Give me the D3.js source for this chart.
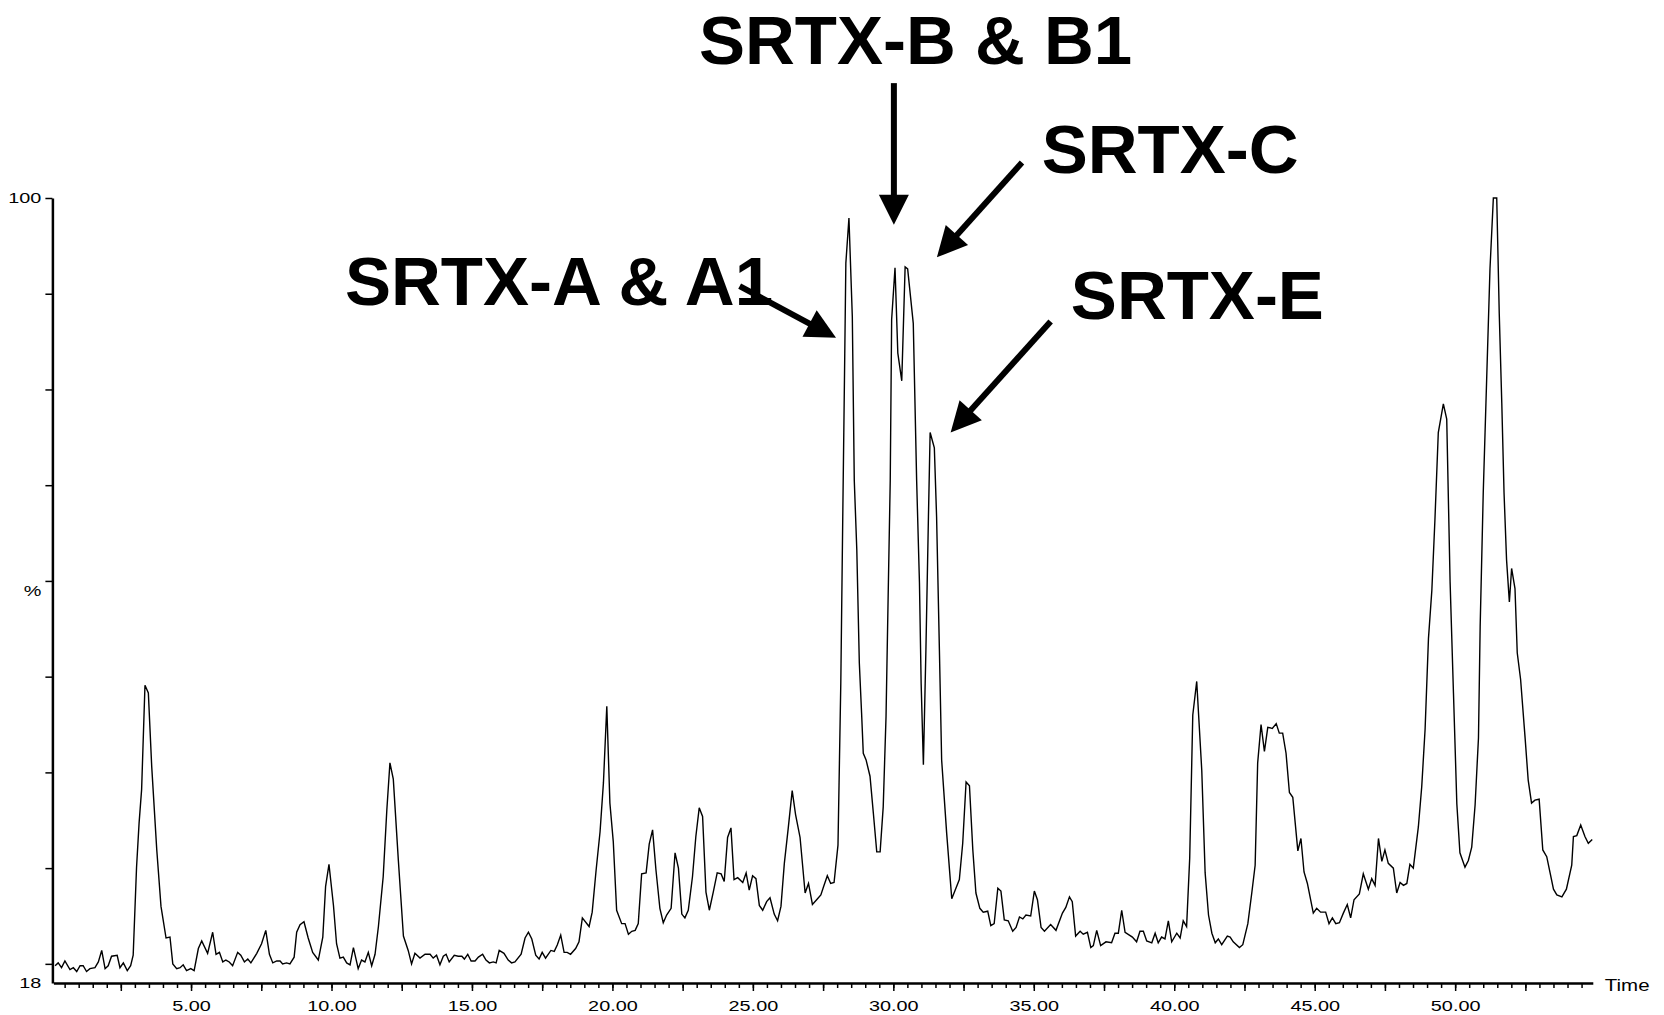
<!DOCTYPE html>
<html>
<head>
<meta charset="utf-8">
<script src="https://cdn.jsdelivr.net/npm/d3@7"></script>
<style>
  html, body { margin: 0; padding: 0; background: #fff; }
  svg { display: block; }
  text { font-family: "Liberation Sans", Arial, sans-serif; }
</style>
</head>
<body>
<svg id="chart" width="1664" height="1015"></svg>
<script>
// ---- data (retention time, relative intensity %) ----
const times = [
0.16,0.27,0.39,0.51,0.69,0.81,0.93,1.05,1.16,1.28,1.40,1.58,1.70,1.82,1.94,2.05,2.17,2.37,2.47,2.59,2.73,2.85,2.94,
3.06,3.15,3.24,3.36,3.48,3.60,3.78,3.93,4.11,4.25,4.35,4.49,4.61,4.72,4.84,4.99,5.11,5.26,5.38,5.59,5.77,5.89,
6.01,6.13,6.24,6.36,6.48,6.66,6.77,6.90,7.02,7.13,7.34,7.51,7.66,7.79,7.91,8.05,8.17,8.26,8.40,8.52,8.67,8.76,8.88,
9.02,9.17,9.33,9.53,9.69,9.79,9.91,10.07,10.18,10.30,10.42,10.54,10.66,10.78,10.95,11.07,11.19,11.31,11.43,11.55,
11.67,11.84,11.97,12.08,12.20,12.38,12.56,12.73,12.85,12.97,13.15,13.33,13.51,13.62,13.74,13.86,13.98,14.08,14.19,
14.37,14.51,14.64,14.73,14.85,14.97,15.11,15.23,15.38,15.50,15.62,15.76,15.86,15.97,16.14,16.29,16.41,16.53,16.75,
16.89,17.01,17.13,17.27,17.39,17.50,17.62,17.81,17.93,18.04,18.16,18.28,18.39,18.51,18.69,18.81,18.93,19.17,19.28,
19.42,19.56,19.68,19.80,19.91,20.03,20.15,20.33,20.45,20.57,20.69,20.81,20.92,21.04,21.20,21.31,21.43,21.55,21.69,
21.81,21.93,22.09,22.23,22.35,22.47,22.58,22.70,22.85,22.97,23.09,23.21,23.33,23.45,23.59,23.73,23.87,23.98,24.10,
24.22,24.33,24.46,24.64,24.76,24.87,24.99,25.11,25.23,25.35,25.49,25.61,25.76,25.88,26.00,26.12,26.26,26.40,26.52,
26.68,26.86,26.98,27.12,27.27,27.42,27.51,27.65,27.77,27.89,28.03,28.13,28.20,28.26,28.31,28.42,28.54,28.61,28.70,
28.79,28.87,28.93,29.03,29.17,29.29,29.41,29.53,29.64,29.74,29.82,29.89,29.94,30.06,30.16,30.30,30.42,30.51,30.71,
30.83,30.93,30.99,31.07,31.16,31.25,31.31,31.46,31.54,31.64,31.72,31.90,32.08,32.20,32.35,32.47,32.59,32.71,32.83,
32.94,33.08,33.20,33.36,33.47,33.59,33.72,33.83,33.95,34.09,34.25,34.37,34.49,34.61,34.72,34.89,35.02,35.13,35.26,
35.38,35.60,35.79,36.02,36.14,36.27,36.37,36.49,36.65,36.76,36.91,37.03,37.12,37.24,37.38,37.57,37.77,37.89,38.01,
38.13,38.25,38.51,38.66,38.78,38.90,39.02,39.20,39.32,39.43,39.55,39.67,39.79,39.91,40.09,40.21,40.32,40.44,40.55,
40.66,40.80,40.98,41.10,41.22,41.34,41.46,41.57,41.69,41.89,41.99,42.10,42.32,42.44,42.62,42.76,42.88,42.97,43.09,
43.21,43.33,43.49,43.63,43.74,43.86,43.98,44.10,44.22,44.40,44.51,44.62,44.74,44.95,45.07,45.21,45.39,45.51,45.63,
45.75,45.88,46.02,46.16,46.28,46.40,46.59,46.73,46.91,47.03,47.15,47.27,47.39,47.50,47.62,47.80,47.92,48.04,48.16,
48.28,48.39,48.51,48.69,48.81,48.93,49.05,49.17,49.28,49.40,49.58,49.70,49.82,49.94,50.06,50.17,50.35,50.47,50.59,
50.71,50.83,50.89,51.00,51.12,51.24,51.36,51.48,51.57,51.66,51.74,51.83,51.93,52.01,52.13,52.21,52.33,52.49,52.60,
52.72,52.84,52.99,53.12,53.26,53.38,53.50,53.62,53.80,53.96,54.15,54.21,54.33,54.47,54.62,54.74,54.88
];
const intensities = [
19.8,20.1,19.6,20.3,19.4,19.6,19.2,19.8,19.8,19.2,19.5,19.6,20.2,21.4,19.5,19.8,20.8,20.9,19.6,20.1,19.3,19.8,20.9,
30.1,34.7,38.2,49.1,48.3,40.6,31.9,26.0,22.7,22.8,20.0,19.5,19.6,19.9,19.3,19.5,19.3,21.6,22.4,21.1,23.3,21.0,
21.2,20.2,20.4,20.2,19.8,21.2,20.9,20.2,20.5,20.1,21.1,22.1,23.5,21.0,20.1,20.3,20.3,20.0,20.1,20.0,20.7,23.3,24.1,
24.4,22.7,21.2,20.4,22.8,28.1,30.4,26.1,22.1,20.6,20.7,20.1,19.9,21.7,19.5,20.4,20.2,21.2,19.8,21.0,
23.9,29.1,36.1,41.0,39.3,30.8,22.9,21.4,20.0,21.1,20.6,21.0,21.0,20.6,20.9,19.9,20.8,21.0,20.2,
20.9,20.8,20.8,20.5,21.0,20.3,20.3,20.7,21.0,20.4,20.1,20.2,20.1,21.4,21.1,20.4,20.1,20.2,21.0,
22.7,23.3,22.6,20.9,20.5,21.2,20.6,21.4,21.3,22.0,23.0,21.2,21.2,21.0,21.6,22.3,24.8,23.9,25.4,
29.8,33.8,38.9,46.9,36.8,32.8,25.6,24.2,24.2,23.1,23.4,23.5,24.2,29.4,29.5,32.5,34.0,29.8,25.8,
24.3,25.1,25.8,31.6,30.0,25.2,24.8,25.6,29.1,33.3,36.3,35.4,27.5,25.6,27.5,29.5,29.4,28.6,33.2,
34.2,28.8,29.0,28.5,29.5,27.7,29.2,28.9,26.1,25.6,26.5,26.9,25.2,24.5,26.0,30.5,34.2,38.1,35.6,
33.2,27.4,28.4,26.2,26.7,27.2,28.0,29.2,28.4,28.5,32.4,49.3,66.7,81.0,93.2,97.9,87.6,70.5,63.2,
51.4,46.2,42.0,41.3,39.6,35.7,31.7,31.7,36.4,45.8,59.1,70.5,87.3,92.7,83.8,80.9,92.8,92.6,86.9,
70.5,59.8,49.3,40.8,52.8,66.7,75.5,73.9,66.7,52.8,41.3,33.6,26.8,27.7,28.8,32.6,39.0,38.6,31.9,
27.4,25.8,25.4,25.5,24.0,24.2,27.9,27.6,24.6,24.5,23.4,23.8,24.9,24.7,25.1,25.0,27.6,26.7,23.8,
23.4,24.1,23.5,25.3,25.9,27.0,26.5,22.9,23.4,23.1,23.3,21.7,21.9,23.5,21.9,22.3,22.2,23.2,23.2,
25.6,23.3,22.8,22.3,23.4,23.4,22.4,22.2,23.2,22.2,22.8,22.6,24.5,22.3,23.2,22.7,24.5,23.9,31.0,
46.0,49.5,40.2,29.5,25.1,23.2,22.2,22.6,22.0,22.9,22.8,22.3,21.7,22.0,24.2,27.4,30.3,41.0,45.0,
42.2,44.7,44.6,45.1,44.1,44.1,42.0,37.9,37.4,31.8,33.1,29.6,28.4,25.3,25.8,25.4,25.4,24.2,24.8,
24.2,24.3,25.3,26.2,24.8,26.7,27.3,29.4,27.8,28.9,28.2,33.1,30.7,31.9,30.5,30.0,27.4,28.5,28.2,
28.4,30.4,30.0,34.3,38.5,44.5,54.0,59.0,66.4,75.5,78.5,76.9,59.9,48.3,36.7,31.6,30.1,30.8,32.2,
36.6,43.6,55.2,69.2,80.9,92.6,100,100,87.9,78.6,69.2,62.2,57.8,61.3,59.2,52.5,49.7,43.6,39.2,
36.8,37.1,37.2,31.9,31.2,29.5,27.8,27.2,27.0,27.8,30.3,33.3,33.4,34.5,33.3,32.6,33.0
];

// axis settings
const xDomain = [0.1, 54.9];
const yDomain = [18, 100];
const xLabelTicks = [5, 10, 15, 20, 25, 30, 35, 40, 45, 50];
const yTicks = [20, 30, 40, 50, 60, 70, 80, 90, 100];
const yLabels = ["100", "18"];
const yAxisTitle = "%";
const xAxisTitle = "Time";

// annotations (label text anchored at baseline-left, in data units)
const annotLabels = ["SRTX-B & B1", "SRTX-C", "SRTX-A & A1", "SRTX-E"];
const annotLabelT = [23.08, 35.28, 10.48, 36.32];
const annotLabelV = [114.0, 102.6, 88.8, 87.4];
// arrows: start (t,v) -> tip (t,v)
const arrowFromT = [30.02, 34.58, 24.53, 35.60];
const arrowFromV = [112.0, 103.7, 90.8, 87.1];
const arrowToT   = [30.02, 31.55, 27.96, 32.04];
const arrowToV   = [97.2, 93.8, 85.4, 75.5];

// ---- drawing ----
const svg = d3.select("#chart");
svg.append("rect").attr("width", 1664).attr("height", 1015).attr("fill", "#fff");

const x = d3.scaleLinear().domain(xDomain).range([53.4, 1592.8]);
const y = d3.scaleLinear().domain(yDomain).range([983, 198]);
const SX = 1.28; // horizontal stretch of small axis text

// trace
const pts = times.map((t, i) => [t, intensities[i]]);
svg.append("path")
  .datum(pts)
  .attr("fill", "none")
  .attr("stroke", "#000")
  .attr("stroke-width", 1.4)
  .attr("stroke-linejoin", "miter")
  .attr("d", d3.line().x(d => x(d[0])).y(d => y(d[1])));

// x axis: minor ticks (0.5), medium (2.5), labelled (5)
const minorVals = d3.range(0.5, 54.9, 0.5);
const midVals = d3.range(2.5, 54.9, 5);
const gx1 = svg.append("g").attr("transform", `translate(0,${y(18)})`)
  .call(d3.axisBottom(x).tickValues(minorVals).tickSize(5).tickSizeOuter(0).tickFormat(""));
const gx2 = svg.append("g").attr("transform", `translate(0,${y(18)})`)
  .call(d3.axisBottom(x).tickValues(midVals).tickSize(8).tickSizeOuter(0).tickFormat(""));
const gx3 = svg.append("g").attr("transform", `translate(0,${y(18)})`)
  .call(d3.axisBottom(x).tickValues(xLabelTicks).tickSize(8).tickSizeOuter(0).tickFormat(d3.format(".2f")));
gx2.select(".domain").remove();
gx3.select(".domain").remove();
[gx1, gx2, gx3].forEach(g => {
  g.selectAll(".tick line").attr("stroke", "#000").attr("stroke-width", 1.5);
});
gx1.select(".domain").attr("stroke", "#000").attr("stroke-width", 2.5);
gx3.selectAll(".tick text")
  .attr("y", 28.5).attr("dy", 0)
  .attr("font-size", 15.5)
  .attr("font-family", '"Liberation Sans", Arial, sans-serif')
  .attr("fill", "#000")
  .attr("transform", `scale(${SX},1)`);

// y axis
const gy = svg.append("g").attr("transform", `translate(${x(xDomain[0]) - 1},0)`)
  .call(d3.axisLeft(y).tickValues(yTicks).tickSize(7).tickSizeOuter(0).tickFormat(""));
gy.select(".domain").attr("stroke", "#000").attr("stroke-width", 2.5);
gy.selectAll(".tick line").attr("stroke", "#000").attr("stroke-width", 1.5);

const axX = x(xDomain[0]) - 1;
const yLabelVals = [100, 18];
yLabelVals.forEach((v, i) => {
  svg.append("text")
    .attr("transform", `translate(${axX - 11},${y(v) + 5}) scale(${SX},1)`)
    .attr("text-anchor", "end")
    .attr("font-size", 15.5)
    .attr("fill", "#000")
    .text(yLabels[i]);
});
svg.append("text")
  .attr("transform", `translate(${axX - 11},${(y(18) + y(100)) / 2 + 5}) scale(${SX},1)`)
  .attr("text-anchor", "end")
  .attr("font-size", 15.5)
  .attr("fill", "#000")
  .text(yAxisTitle);
svg.append("text")
  .attr("transform", `translate(${x(xDomain[1]) + 12},${y(18) + 8}) scale(${SX},1)`)
  .attr("text-anchor", "start")
  .attr("font-size", 16)
  .attr("fill", "#000")
  .text(xAxisTitle);

// annotations
annotLabels.forEach((txt, i) => {
  svg.append("text")
    .attr("x", x(annotLabelT[i]))
    .attr("y", y(annotLabelV[i]))
    .attr("font-size", 69)
    .attr("font-weight", "bold")
    .attr("fill", "#000")
    .text(txt);
});

const headLen = 30, headHalf = 15;
arrowFromT.forEach((t0, i) => {
  const x1 = x(t0), y1 = y(arrowFromV[i]);
  const x2 = x(arrowToT[i]), y2 = y(arrowToV[i]);
  const dx = x2 - x1, dy = y2 - y1, L = Math.hypot(dx, dy);
  const ux = dx / L, uy = dy / L, nx = -uy, ny = ux;
  const bx = x2 - ux * headLen, by = y2 - uy * headLen;
  svg.append("line")
    .attr("x1", x1).attr("y1", y1).attr("x2", bx + ux * 2).attr("y2", by + uy * 2)
    .attr("stroke", "#000").attr("stroke-width", 6);
  svg.append("path")
    .attr("d", `M${x2},${y2}L${bx + nx * headHalf},${by + ny * headHalf}L${bx - nx * headHalf},${by - ny * headHalf}Z`)
    .attr("fill", "#000");
});
</script>
</body>
</html>
